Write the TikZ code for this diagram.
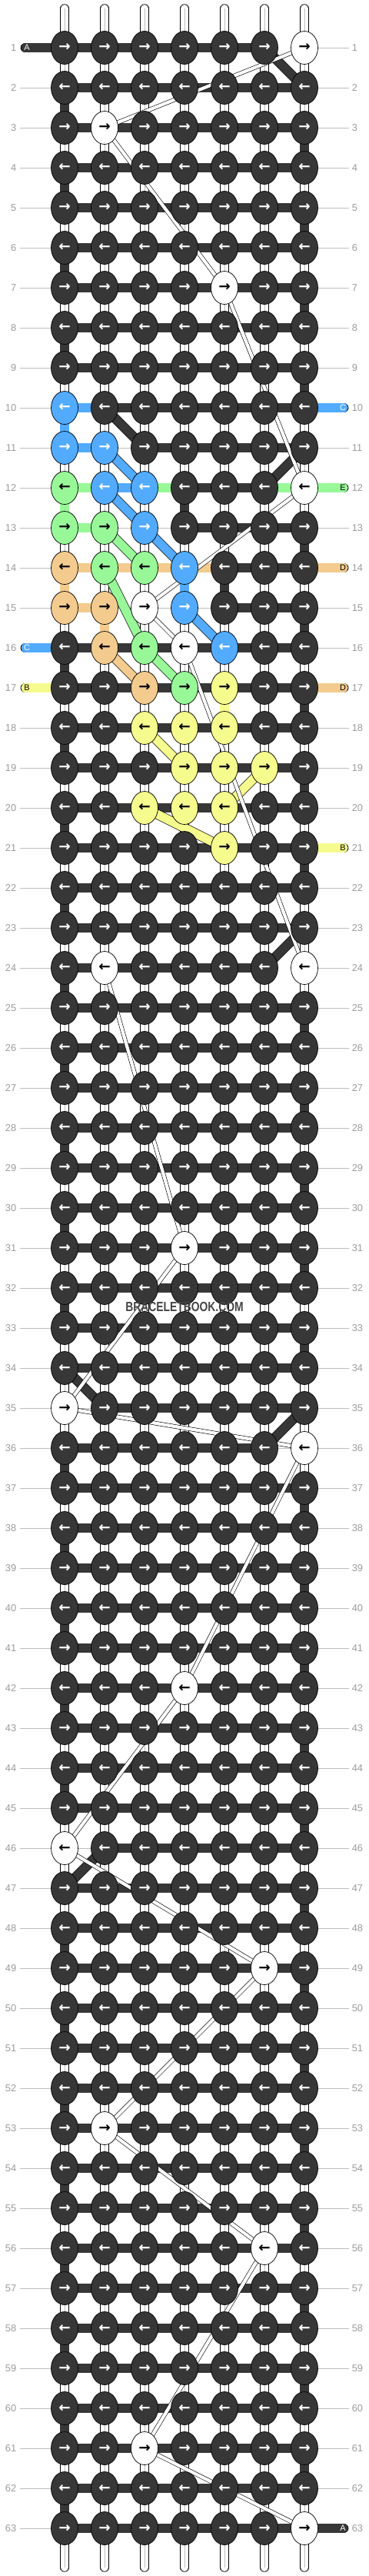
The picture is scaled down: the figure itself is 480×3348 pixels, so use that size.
\documentclass[tikz,border=0pt]{standalone}
\usepackage{fontspec}
\setmainfont{Liberation Sans}
\newfontfamily\arrowfont{DejaVu Sans}
\usetikzlibrary{shapes.geometric}

\definecolor{kdark}{HTML}{373737}
\definecolor{kblue}{HTML}{52ABFF}
\definecolor{kgreen}{HTML}{98F898}
\definecolor{korange}{HTML}{F3CB8E}
\definecolor{kyellow}{HTML}{F6FB8D}
\definecolor{kguide}{HTML}{BDBDBD}
\definecolor{knum}{HTML}{9C9C9C}
\definecolor{kmark}{HTML}{454545}

\pgfdeclarelayer{paper}
\pgfdeclarelayer{guide}
\pgfdeclarelayer{warp}
\pgfdeclarelayer{band}
\pgfdeclarelayer{thin}
\pgfdeclarelayer{top}
\pgfsetlayers{paper,guide,warp,band,thin,main,top}

\tikzset{
  knot/.style={ellipse, draw=black, line width=0.4pt, minimum width=0.7cm,
    minimum height=0.86cm, inner sep=0pt,
    font=\arrowfont\bfseries\fontsize{10.5}{10.5}\selectfont},
  band/.style={draw=black, line width=0.4pt, double=#1, double distance=0.225cm},
  warp/.style={draw=black, line width=0.4pt, double=white, double distance=0.2cm, line cap=round},
  warpmid/.style={draw=kguide, line width=0.45pt},
  carried/.style={draw=black, line width=0.35pt, double=white, double distance=0.085cm},
  guide/.style={draw=kguide, line width=0.55pt},
  rowno/.style={text=knum, font=\fontsize{7.3}{8}\selectfont, inner sep=0pt},
  stubno/.style={font=\fontsize{6.2}{7}\selectfont, inner sep=0pt},
}
\def\nonestr{none}

\begin{document}
\begin{tikzpicture}[x=0.02cm, y=-0.02cm]
\useasboundingbox (0,0) rectangle (480,3348);
\begin{pgfonlayer}{paper}
\fill[white] (0,0) rectangle (480,3348);
\end{pgfonlayer}

% knots that are not dark
\foreach \r/\c/\f/\t in {1/7/white/black, 3/2/white/black, 7/5/white/black,
  10/1/kblue/white, 11/1/kblue/white, 11/2/kblue/white,
  12/1/kgreen/black, 12/2/kblue/white, 12/3/kblue/white, 12/7/white/black,
  13/1/kgreen/black, 13/2/kgreen/black, 13/3/kblue/white,
  14/1/korange/black, 14/2/kgreen/black, 14/3/kgreen/black, 14/4/kblue/white,
  15/1/korange/black, 15/2/korange/black, 15/3/white/black, 15/4/kblue/white,
  16/2/korange/black, 16/3/kgreen/black, 16/4/white/black, 16/5/kblue/white,
  17/3/korange/black, 17/4/kgreen/black, 17/5/kyellow/black,
  18/3/kyellow/black, 18/4/kyellow/black, 18/5/kyellow/black,
  19/4/kyellow/black, 19/5/kyellow/black, 19/6/kyellow/black,
  20/3/kyellow/black, 20/4/kyellow/black, 20/5/kyellow/black,
  21/5/kyellow/black,
  24/2/white/black, 24/7/white/black, 31/4/white/black, 35/1/white/black,
  36/7/white/black, 42/4/white/black, 46/1/white/black, 49/6/white/black,
  53/2/white/black, 56/6/white/black, 61/3/white/black, 63/7/white/black}{
  \expandafter\xdef\csname kf-\r-\c\endcsname{\f}
  \expandafter\xdef\csname kt-\r-\c\endcsname{\t}
}

% knots
\foreach \r in {1,...,63}{
  \foreach \c in {1,...,7}{
    \ifcsname kf-\r-\c\endcsname
      \edef\kf{\csname kf-\r-\c\endcsname}\edef\kt{\csname kt-\r-\c\endcsname}
    \else\def\kf{kdark}\def\kt{white}\fi
    \ifodd\r\def\karr{→}\else\def\karr{←}\fi
    \node[knot, fill=\kf, text=\kt] (k-\r-\c) at (32+52*\c, 10+52*\r) {\karr};
  }
}

% row numbers and guide lines
\foreach \r in {1,...,63}{
  \node[rowno, anchor=east] (ln-\r) at (21.5, 10+52*\r) {\r};
  \node[rowno, anchor=west] (rn-\r) at (457.5, 10+52*\r) {\r};
  \coordinate (gl-\r) at (26, 10+52*\r);
  \coordinate (gr-\r) at (454, 10+52*\r);
  \begin{pgfonlayer}{guide}
  \draw[guide] (gl-\r) -- (gr-\r);
  \end{pgfonlayer}
}

% warp strands
\begin{pgfonlayer}{warp}
\foreach \c in {1,...,7}{
  \coordinate (wt-\c) at (32+52*\c, 11);
  \coordinate (wb-\c) at (32+52*\c, 3337);
  \draw[warp] (wt-\c) -- (wb-\c);
  \draw[warpmid] (wt-\c) -- (wb-\c);
}
\end{pgfonlayer}

% bands between knots
\foreach \r/\c/\b in {1/6/white, 10/1/kblue, 11/1/kblue, 11/2/none,
  12/1/kgreen, 12/2/kblue, 12/3/kgreen, 12/6/kgreen,
  13/1/kgreen, 13/2/none, 13/3/none,
  14/1/korange, 14/2/korange, 14/3/korange, 14/4/korange,
  15/1/korange, 15/2/none, 15/3/none, 15/4/none,
  24/6/white, 35/1/none, 36/6/none, 46/1/none}{
  \expandafter\xdef\csname bd-\r-\c\endcsname{\b}
}
\begin{pgfonlayer}{band}
\foreach \r in {1,...,63}{
  \foreach \c [count=\d from 2] in {1,...,6}{
    \ifcsname bd-\r-\c\endcsname
      \edef\bcol{\csname bd-\r-\c\endcsname}
    \else\def\bcol{kdark}\fi
    \ifx\bcol\nonestr\else
      \draw[band=\bcol] (k-\r-\c.center) -- (k-\r-\d.center);
    \fi
  }
}

% turns at the row ends
\foreach \r [evaluate=\r as \s using int(\r+1)] in {3,5,...,9,13,15,...,21,25,27,...,33,37,39,...,61}
  \draw[band=kdark] (k-\r-7.center) -- (k-\s-7.center);
\foreach \r [evaluate=\r as \s using int(\r+1)] in {2,4,6,8,16,18,...,32,36,38,...,44,48,50,...,62}
  \draw[band=kdark] (k-\r-1.center) -- (k-\s-1.center);
\foreach \r/\c/\b [evaluate=\r as \s using int(\r+1)] in {10/1/kblue, 12/1/kgreen,
  14/1/korange, 12/4/kdark, 14/4/kblue, 14/5/kdark, 15/2/korange, 17/5/kyellow}
  \draw[band=\b] (k-\r-\c.center) -- (k-\s-\c.center);

% diagonal threads
\foreach \ra/\ca/\rb/\cb/\b in {1/6/2/7/kdark, 10/2/11/3/kdark, 11/7/12/6/kdark,
  23/7/24/6/kdark, 34/1/35/2/kdark, 35/7/36/6/kdark, 46/2/47/1/kdark,
  11/2/12/3/kblue, 12/2/13/3/kblue, 13/3/14/4/kblue, 15/4/16/5/kblue,
  13/2/14/3/kgreen, 14/2/16/3/kgreen, 16/3/17/4/kgreen, 16/2/17/3/korange,
  18/3/19/4/kyellow, 19/6/20/5/kyellow, 20/3/21/5/kyellow}
  \draw[band=\b] (k-\ra-\ca.center) -- (k-\rb-\cb.center);

% loose ends
\foreach \r/\b/\l/\t in {1/kdark/A/white, 16/kblue/C/white, 17/kyellow/B/black}{
  \coordinate (sl-\r) at (33, 10+52*\r);
  \draw[band=\b, line cap=round] (sl-\r) -- (k-\r-1.center);
  \node[stubno, text=\t] (sa-\r) at (35, 10+52*\r) {\l};
}
\foreach \r/\b/\l/\t in {10/kblue/C/white, 12/kgreen/E/black, 14/korange/D/black,
  17/korange/D/black, 21/kyellow/B/black, 63/kdark/A/white}{
  \coordinate (sr-\r) at (447, 10+52*\r);
  \draw[band=\b, line cap=round] (sr-\r) -- (k-\r-7.center);
  \node[stubno, text=\t] (sb-\r) at (446, 10+52*\r) {\l};
}
\end{pgfonlayer}

% carried white thread
\begin{pgfonlayer}{thin}
\foreach \ra/\ca/\rb/\cb in {1/7/3/2, 3/2/7/5, 7/5/12/7, 12/7/15/3, 15/3/16/4,
  16/4/24/7, 24/2/31/4, 31/4/35/1, 35/1/36/7, 36/7/42/4, 42/4/46/1,
  46/1/49/6, 49/6/53/2, 53/2/56/6, 56/6/61/3, 61/3/63/7}
  \draw[carried] (k-\ra-\ca.center) -- (k-\rb-\cb.center);
\end{pgfonlayer}

\begin{pgfonlayer}{top}
\node[text=kmark, font=\bfseries\fontsize{7.9}{8}\selectfont, inner sep=0pt]
  (mark) at (240,1699) {\scalebox{1}[1.25]{BRACELETBOOK.COM}};
\end{pgfonlayer}
\end{tikzpicture}
\end{document}
